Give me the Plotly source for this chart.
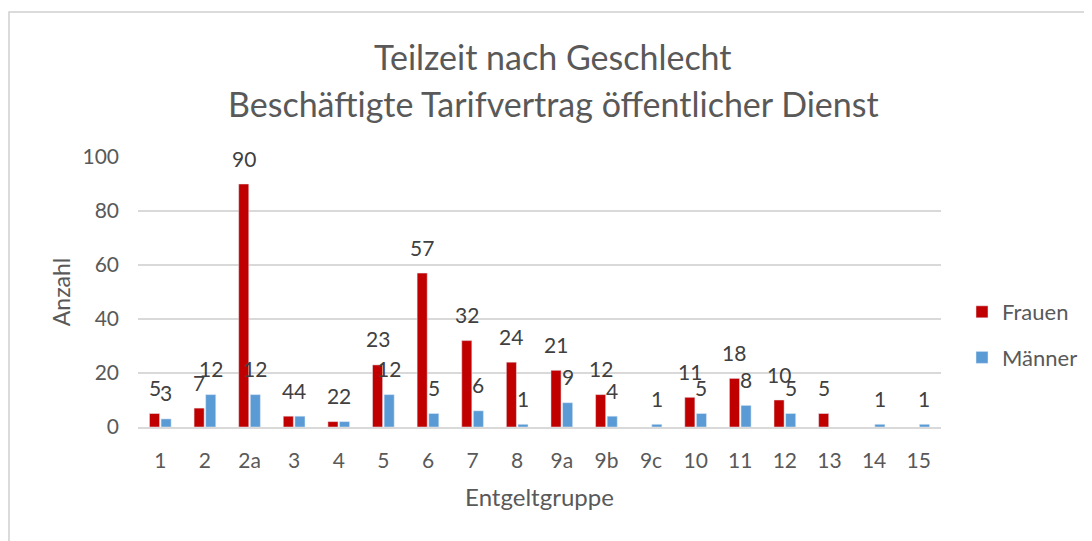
import plotly.graph_objects as go

categories = ["1", "2", "2a", "3", "4", "5", "6", "7", "8", "9a", "9b", "9c", "10", "11", "12", "13", "14", "15"]
frauen = [5, 7, 90, 4, 2, 23, 57, 32, 24, 21, 12, None, 11, 18, 10, 5, None, None]
maenner = [3, 12, 12, 4, 2, 12, 5, 6, 1, 9, 4, 1, 5, 8, 5, None, 1, 1]
y_ticks = [0, 20, 40, 60, 80, 100]
title_lines = ["Teilzeit nach Geschlecht", "Beschäftigte Tarifvertrag öffentlicher Dienst"]

FONT = "Lato, 'Open Sans', sans-serif"
GREY = "#595959"
OFF = 8  # page body margin
W, H = 1092, 541
SX0, SX1, SY0, SY1 = 138, 941, 157, 427
L = SX0 - OFF
T = SY0 - OFF
R = W - (SX1 - OFF)
B = H - (SY1 - OFF)
pw, ph = W - L - R, H - T - B
BARGAP = 0.48

def px_x(p):
    return (p - OFF - L) / pw

def px_y(p):
    return (H - B - (p - OFF)) / ph

fig = go.Figure()
fig.add_trace(go.Bar(x=categories, y=frauen, name="Frauen", marker_color="#C00000", legendgroup="f"))
fig.add_trace(go.Bar(x=categories, y=maenner, name="Männer", marker_color="#5B9BD5", legendgroup="m"))

# data labels above each bar (x given as category index on the category axis)
cat_w = pw / len(categories)
slot = (1 - BARGAP) * cat_w / 2
annotations = []
for series, shift in ((frauen, -slot / 2), (maenner, slot / 2)):
    for i, v in enumerate(series):
        if v is None:
            continue
        annotations.append(dict(
            text=str(v), x=i, y=v, xref="x", yref="y", xshift=shift, yshift=26,
            xanchor="center", yanchor="middle", showarrow=False,
            font=dict(size=21, color="#404040", family=FONT)))

annotations += [
    dict(text=title_lines[0], xref="paper", yref="paper", x=px_x(553), y=px_y(57),
         xanchor="center", yanchor="middle", showarrow=False,
         font=dict(size=34, color=GREY, family=FONT)),
    dict(text=title_lines[1], xref="paper", yref="paper", x=px_x(553), y=px_y(103),
         xanchor="center", yanchor="middle", showarrow=False,
         font=dict(size=34, color=GREY, family=FONT)),
]

fig.update_layout(
    width=W, height=H,
    margin=dict(l=L, r=R, t=T, b=B),
    paper_bgcolor="white", plot_bgcolor="white",
    font=dict(family=FONT, color=GREY),
    barmode="group", bargap=BARGAP, bargroupgap=0.13,
    annotations=annotations,
    legend=dict(
        x=px_x(962), xanchor="left", y=px_y(291), yanchor="top",
        font=dict(size=22, color=GREY, family=FONT),
        tracegroupgap=14, itemwidth=30, traceorder="grouped"),
    shapes=[dict(
        type="rect", xref="paper", yref="paper",
        x0=px_x(OFF + 1), x1=px_x(W + 20), y0=px_y(H + 20), y1=px_y(12),
        line=dict(color="#D0D0D0", width=1.5), fillcolor="rgba(0,0,0,0)",
        layer="below")],
)
fig.update_xaxes(
    type="category",
    showline=True, linecolor="#D9D9D9", linewidth=1.5,
    showgrid=False, ticks="", ticklabelstandoff=14,
    tickfont=dict(size=21, color=GREY, family=FONT),
    title=dict(text="Entgeltgruppe", font=dict(size=24, color=GREY, family=FONT), standoff=18),
)
fig.update_yaxes(
    range=[0, 100], tickvals=y_ticks,
    showgrid=True, gridcolor="#D9D9D9", gridwidth=1.5,
    zeroline=False, showline=False, ticks="", ticklabelstandoff=18,
    tickfont=dict(size=21, color=GREY, family=FONT),
    title=dict(text="Anzahl", font=dict(size=23, color=GREY, family=FONT), standoff=5),
)

fig.write_html("out.html")
